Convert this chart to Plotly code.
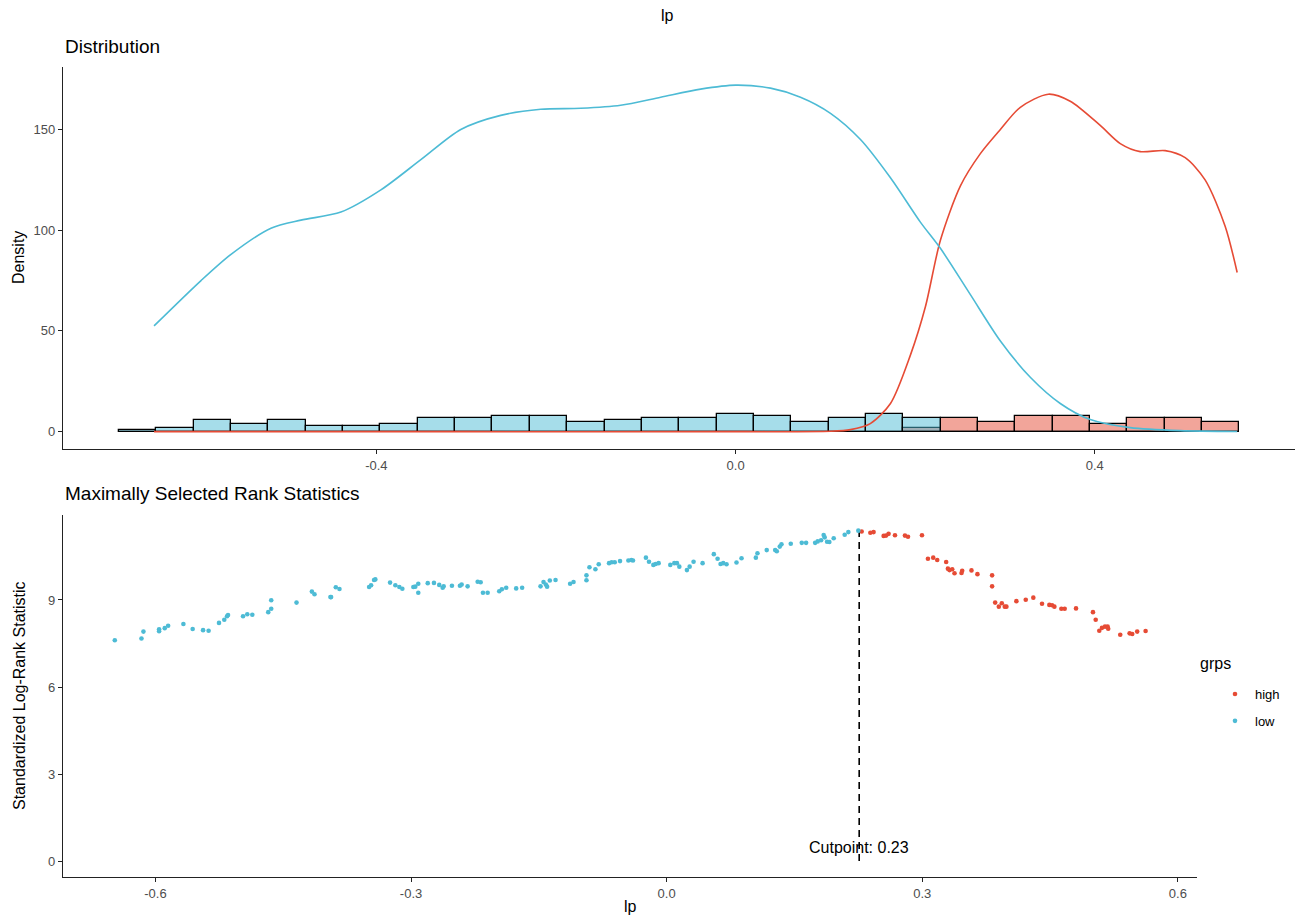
import plotly.graph_objects as go

# ---------------- data ----------------
# histogram (30 bins, ggplot-style, counts per group)
bin_left_edge = -0.6865
bin_width = 0.04158
low_counts = [1, 2, 6, 4, 6, 3, 3, 4, 7, 7, 8, 8, 5, 6, 7, 7, 9, 8, 5, 7, 9, 7, 0, 0, 0, 0, 0, 0, 0, 0]
high_counts = [0] * 21 + [2, 7, 5, 8, 8, 4, 7, 7, 5]

# density curves (scaled as in the reference)
dens_low_x = [-0.6476, -0.5953, -0.5619, -0.5174, -0.4840, -0.4395, -0.3950, -0.3505, -0.3060,
              -0.2615, -0.2170, -0.1725, -0.1280, -0.0834, -0.0389, 0.0, 0.0389, 0.0723, 0.1057,
              0.1391, 0.1725, 0.2058, 0.2281, 0.2615, 0.2949, 0.3282, 0.3616, 0.3950, 0.4395,
              0.4951, 0.5586]
dens_low_y = [52.5, 75, 88, 101, 105, 109, 120, 135, 150, 157, 160, 160.5, 162, 166, 170, 172,
              170.5, 166, 158, 145, 126, 104, 91, 68, 45, 27, 14, 6, 2, 0.5, 0.1]
dens_high_x = [-0.6476, -0.3, 0.0, 0.1057, 0.128, 0.150, 0.1725, 0.1947, 0.2114, 0.2281, 0.2504,
               0.2726, 0.2949, 0.3171, 0.3483, 0.3727, 0.4061, 0.4284, 0.4506, 0.4784, 0.5007,
               0.5229, 0.5452, 0.5586]
dens_high_y = [0, 0, 0, 0.2, 1, 4, 14, 38, 62, 95, 122, 138, 150, 161, 167.5, 164, 152, 143, 139,
               139.5, 136, 125, 102, 79]

# maximally selected rank statistics
low_lp = [-0.6477, -0.6164, -0.6141, -0.5957, -0.5957, -0.5891, -0.5851, -0.5672, -0.5563, -0.5441,
          -0.5376, -0.5254, -0.5192, -0.5160, -0.5148, -0.4972, -0.4922, -0.4863, -0.4676, -0.4641,
          -0.4641, -0.4344, -0.4164, -0.4133, -0.3946, -0.3938, -0.3883, -0.3840, -0.3492, -0.3469,
          -0.3434, -0.3419, -0.3246, -0.3184, -0.3137, -0.3102, -0.2973, -0.2950, -0.2915, -0.2915,
          -0.2804, -0.2731, -0.2669, -0.2629, -0.2617, -0.2520, -0.2426, -0.2406, -0.2336, -0.2218,
          -0.2183, -0.2156, -0.2101, -0.1965, -0.1934, -0.1883, -0.1766, -0.1696, -0.1480, -0.1445,
          -0.1418, -0.1403, -0.1371, -0.1304, -0.1133, -0.1093, -0.0941, -0.0941, -0.0906, -0.0836,
          -0.0797, -0.0676, -0.0645, -0.0609, -0.0547, -0.0449, -0.0414, -0.0395, -0.0243, -0.0207,
          -0.0156, -0.0129, -0.0094, 0.0043, 0.0090, 0.0121, 0.0149, 0.0238, 0.0270, 0.0316, 0.0422,
          0.0554, 0.0598, 0.0633, 0.0664, 0.0703, 0.0820, 0.0879, 0.1047, 0.1066, 0.1175, 0.1274,
          0.1293, 0.1328, 0.1348, 0.1457, 0.1586, 0.1637, 0.1743, 0.1773, 0.1813, 0.1843, 0.1855,
          0.1883, 0.1910, 0.1961, 0.2090, 0.2133, 0.2250]
low_stat = [7.61, 7.67, 7.91, 7.92, 7.99, 8.03, 8.11, 8.17, 8.00, 7.96,
            7.94, 8.21, 8.32, 8.44, 8.48, 8.44, 8.51, 8.49, 8.58, 8.70,
            8.99, 8.91, 9.29, 9.20, 9.10, 9.10, 9.44, 9.38, 9.45, 9.51,
            9.69, 9.71, 9.60, 9.51, 9.45, 9.39, 9.45, 9.46, 9.56, 9.25,
            9.58, 9.59, 9.52, 9.42, 9.47, 9.49, 9.49, 9.53, 9.47, 9.63,
            9.61, 9.25, 9.25, 9.30, 9.37, 9.42, 9.40, 9.42, 9.47, 9.62,
            9.53, 9.46, 9.67, 9.69, 9.56, 9.62, 9.68, 9.85, 10.13, 10.06,
            10.23, 10.27, 10.30, 10.30, 10.34, 10.36, 10.38, 10.36, 10.46, 10.32,
            10.21, 10.24, 10.27, 10.21, 10.27, 10.27, 10.15, 10.03, 10.15, 10.32, 10.27,
            10.58, 10.42, 10.24, 10.27, 10.23, 10.29, 10.44, 10.46, 10.61, 10.72, 10.72,
            10.68, 10.84, 10.92, 10.94, 10.97, 10.97, 10.97, 11.02, 11.06, 11.24, 11.16,
            11.01, 11.00, 11.13, 11.25, 11.34, 11.39]
high_lp = [0.2289, 0.2391, 0.2429, 0.2547, 0.2575, 0.2605, 0.2680, 0.2797, 0.2833, 0.2997,
           0.3067, 0.3129, 0.3176, 0.3281, 0.3301, 0.3320, 0.3352, 0.3379, 0.3461, 0.3469,
           0.3578, 0.3648, 0.3820, 0.3820, 0.3856, 0.3899, 0.3934, 0.3969, 0.3988, 0.4105,
           0.4215, 0.4304, 0.4406, 0.4492, 0.4524, 0.4551, 0.4633, 0.4672, 0.4805, 0.5004,
           0.5036, 0.5078, 0.5110, 0.5145, 0.5176, 0.5183, 0.5324, 0.5434, 0.5465, 0.5523, 0.5622]
high_stat = [11.36, 11.32, 11.34, 11.21, 11.22, 11.28, 11.23, 11.22, 11.18, 11.23,
             10.42, 10.46, 10.38, 10.31, 10.08, 10.03, 10.06, 9.92, 9.93, 10.01,
             10.02, 9.89, 9.85, 9.47, 8.91, 8.77, 8.89, 8.77, 8.77, 8.96,
             9.01, 9.08, 8.87, 8.83, 8.82, 8.77, 8.70, 8.70, 8.71, 8.58,
             8.32, 7.94, 8.04, 8.08, 8.08, 8.01, 7.80, 7.85, 7.83, 7.91, 7.93]
cutpoint = 0.226
cutpoint_label = "Cutpoint: 0.23"

# ---------------- styling ----------------
RED = "#E64B35"
BLUE = "#4DBBD5"
W, H = 1295, 917
FONT = "Liberation Sans, Arial, sans-serif"
TICK_COL = "#4D4D4D"
AX_COL = "#222222"

def px_x(p):
    return p / W

def px_y(p):
    return 1 - p / H

bin_centers = [bin_left_edge + bin_width * (i + 0.5) for i in range(len(low_counts))]

fig = go.Figure()

# histogram: high first, low on top (ggplot group order)
fig.add_trace(go.Bar(x=bin_centers, y=high_counts, width=bin_width,
                     marker=dict(color="rgba(230,75,53,0.5)", line=dict(color="black", width=1.3)),
                     showlegend=False, xaxis="x", yaxis="y", hoverinfo="skip"))
fig.add_trace(go.Bar(x=bin_centers, y=low_counts, width=bin_width,
                     marker=dict(color="rgba(77,187,213,0.5)", line=dict(color="black", width=1.3)),
                     showlegend=False, xaxis="x", yaxis="y", hoverinfo="skip"))
# density lines
fig.add_trace(go.Scatter(x=dens_high_x, y=dens_high_y, mode="lines",
                         line=dict(color=RED, width=1.6, shape="spline", smoothing=0.8),
                         showlegend=False, xaxis="x", yaxis="y"))
fig.add_trace(go.Scatter(x=dens_low_x, y=dens_low_y, mode="lines",
                         line=dict(color=BLUE, width=1.6, shape="spline", smoothing=0.8),
                         showlegend=False, xaxis="x", yaxis="y"))

# bottom: dashed cutpoint line
fig.add_trace(go.Scatter(x=[cutpoint, cutpoint], y=[0, max(low_stat + high_stat)], mode="lines",
                         line=dict(color="black", width=1.6, dash="7px,5px"),
                         showlegend=False, xaxis="x2", yaxis="y2"))
fig.add_trace(go.Scatter(x=high_lp, y=high_stat, mode="markers", name="high", legendgroup="high",
                         marker=dict(color=RED, size=4.6), xaxis="x2", yaxis="y2"))
fig.add_trace(go.Scatter(x=low_lp, y=low_stat, mode="markers", name="low", legendgroup="low",
                         marker=dict(color=BLUE, size=4.6), xaxis="x2", yaxis="y2"))

axis_common = dict(showline=True, linecolor=AX_COL, linewidth=1.3, ticks="outside",
                   ticklen=4, tickwidth=1.2, tickcolor=AX_COL, showgrid=False, zeroline=False,
                   tickfont=dict(family=FONT, size=13, color=TICK_COL))

fig.update_layout(
    width=W, height=H,
    margin=dict(l=0, r=0, t=0, b=0),
    plot_bgcolor="white", paper_bgcolor="white",
    barmode="overlay", bargap=0,
    font=dict(family=FONT, color="black"),
    xaxis=dict(domain=[px_x(63), 1.0], range=[-0.749, 0.623], anchor="y",
               tickvals=[-0.4, 0.0, 0.4], ticktext=["-0.4", "0.0", "0.4"], **axis_common),
    yaxis=dict(domain=[px_y(449), px_y(67)], range=[-8.6, 181.0], anchor="x",
               tickvals=[0, 50, 100, 150], **axis_common),
    xaxis2=dict(domain=[px_x(63), px_x(1197)], range=[-0.7085, 0.6225], anchor="y2",
                tickvals=[-0.6, -0.3, 0.0, 0.3, 0.6], ticktext=["-0.6", "-0.3", "0.0", "0.3", "0.6"],
                **axis_common),
    yaxis2=dict(domain=[px_y(877), px_y(515)], range=[-0.55, 11.93], anchor="x2",
                tickvals=[0, 3, 6, 9], **axis_common),
    legend=dict(x=px_x(1215), y=px_y(679), xanchor="left", yanchor="top",
                font=dict(family=FONT, size=13, color="black"),
                bgcolor="rgba(0,0,0,0)", itemsizing="trace", tracegroupgap=7),
)

ann = [
    dict(text="lp", x=px_x(667), y=px_y(15), xanchor="center", yanchor="middle", size=16),
    dict(text="Distribution", x=px_x(63), y=px_y(46), xanchor="left", yanchor="middle", size=19),
    dict(text="Maximally Selected Rank Statistics", x=px_x(63), y=px_y(494), xanchor="left",
         yanchor="middle", size=19),
    dict(text="lp", x=px_x(630), y=px_y(906), xanchor="center", yanchor="middle", size=16),
    dict(text="grps", x=px_x(1198), y=px_y(663), xanchor="left", yanchor="middle", size=16),
]
for a in ann:
    fig.add_annotation(text=a["text"], x=a["x"], y=a["y"], xref="paper", yref="paper",
                       xanchor=a["xanchor"], yanchor=a["yanchor"], showarrow=False,
                       font=dict(family=FONT, size=a["size"], color="black"))
fig.add_annotation(text="Density", x=px_x(19), y=px_y(258), xref="paper", yref="paper",
                   xanchor="center", yanchor="middle",
                   textangle=-90, showarrow=False, font=dict(family=FONT, size=16, color="black"))
fig.add_annotation(text="Standardized Log-Rank Statistic", x=px_x(19), y=px_y(696), xref="paper",
                   yref="paper", xanchor="center", yanchor="middle", textangle=-90, showarrow=False,
                   font=dict(family=FONT, size=16, color="black"))
fig.add_annotation(text=cutpoint_label, x=cutpoint, y=0.48, xref="x2", yref="y2",
                   xanchor="center", yanchor="middle", showarrow=False,
                   font=dict(family=FONT, size=16, color="black"))

fig.write_html("out.html", config={"displayModeBar": False},
               post_script="document.body.style.margin='0';document.body.style.overflow='hidden';")
